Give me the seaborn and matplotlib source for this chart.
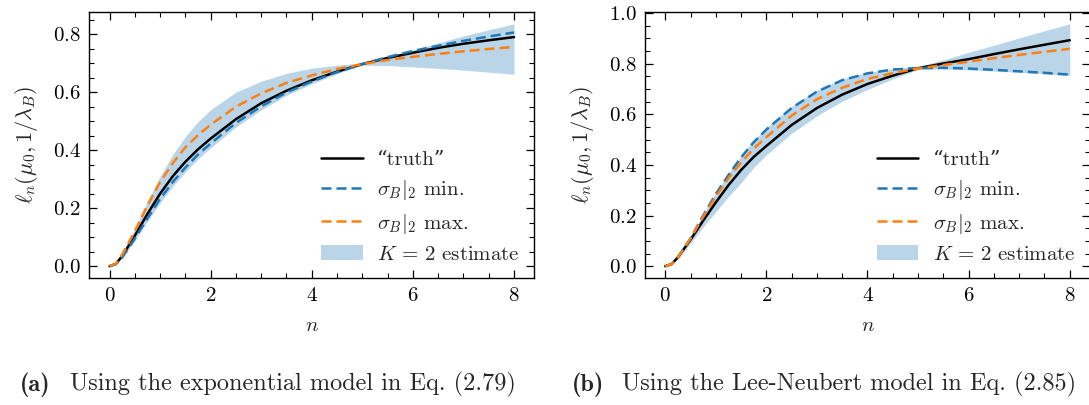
import matplotlib
matplotlib.use("Agg")
from matplotlib import pyplot as plt
from matplotlib.ticker import MultipleLocator
import seaborn as sns
import pandas as pd

# sample points along n
n_vals = [0, 0.125, 0.25, 0.5, 0.75, 1, 1.25, 1.5, 1.75, 2, 2.5, 3, 3.5,
          4, 4.5, 5, 5.5, 6, 6.5, 7, 7.5, 8]

# (a) exponential model
truth_a = [0, 0.008, 0.035, 0.105, 0.18, 0.25, 0.31, 0.36, 0.403, 0.44, 0.507,
           0.562, 0.605, 0.641, 0.671, 0.697, 0.718, 0.736, 0.753, 0.767, 0.779, 0.79]
smin_a = [0, 0.007, 0.03, 0.095, 0.165, 0.232, 0.29, 0.34, 0.385, 0.423, 0.494,
          0.551, 0.599, 0.637, 0.669, 0.697, 0.721, 0.742, 0.76, 0.777, 0.792, 0.806]
smax_a = [0, 0.009, 0.04, 0.12, 0.21, 0.29, 0.355, 0.41, 0.452, 0.488, 0.55,
          0.596, 0.632, 0.658, 0.68, 0.697, 0.711, 0.722, 0.732, 0.741, 0.749, 0.756]
low_a = [0, 0.006, 0.028, 0.088, 0.155, 0.218, 0.275, 0.325, 0.37, 0.408, 0.48,
         0.539, 0.589, 0.629, 0.664, 0.693, 0.692, 0.687, 0.682, 0.676, 0.669, 0.662]
high_a = [0, 0.01, 0.042, 0.128, 0.225, 0.31, 0.385, 0.447, 0.498, 0.54, 0.6,
          0.638, 0.665, 0.683, 0.693, 0.7, 0.722, 0.746, 0.77, 0.794, 0.815, 0.836]

# (b) Lee-Neubert model
truth_b = [0, 0.008, 0.035, 0.105, 0.18, 0.252, 0.32, 0.38, 0.432, 0.475, 0.558,
           0.625, 0.678, 0.72, 0.753, 0.782, 0.801, 0.818, 0.838, 0.857, 0.875, 0.893]
smin_b = [0, 0.008, 0.035, 0.11, 0.2, 0.285, 0.36, 0.43, 0.49, 0.54, 0.625,
          0.69, 0.735, 0.762, 0.777, 0.783, 0.784, 0.781, 0.776, 0.77, 0.764, 0.757]
smax_b = [0, 0.008, 0.035, 0.11, 0.195, 0.275, 0.348, 0.41, 0.465, 0.51, 0.595,
          0.66, 0.705, 0.74, 0.763, 0.781, 0.795, 0.808, 0.822, 0.835, 0.847, 0.859]
low_b = [0, 0.006, 0.028, 0.09, 0.155, 0.215, 0.275, 0.33, 0.39, 0.44, 0.525,
         0.594, 0.652, 0.698, 0.74, 0.777, 0.779, 0.776, 0.771, 0.766, 0.76, 0.753]
high_b = [0, 0.009, 0.037, 0.115, 0.205, 0.29, 0.366, 0.436, 0.497, 0.548, 0.632,
          0.696, 0.74, 0.766, 0.781, 0.79, 0.815, 0.845, 0.873, 0.902, 0.93, 0.958]

captions = ["Using the exponential model in Eq. (2.79)",
            "Using the Lee-Neubert model in Eq. (2.85)"]
tags = ["(a)", "(b)"]

sns.set_theme(style="ticks")
plt.rcParams['font.family'] = ['cmr10', 'DejaVu Serif']
plt.rcParams['mathtext.fontset'] = 'cm'
plt.rcParams['axes.formatter.use_mathtext'] = True
plt.rcParams['axes.unicode_minus'] = False
plt.rcParams['axes.edgecolor'] = 'black'
plt.rcParams['axes.linewidth'] = 1.0

fig = plt.figure(figsize=(10.89, 4.05), dpi=100)
ax_a = fig.add_axes([0.082, 0.3128, 0.4086, 0.6585])
ax_b = fig.add_axes([0.5923, 0.3128, 0.4086, 0.6585])

FS = 15


def draw(ax, truth, smin, smax, low, high):
    df = pd.DataFrame({'n': n_vals, 'truth': truth, 'min': smin, 'max': smax})
    ax.fill_between(n_vals, low, high, color='#1f77b4', alpha=0.3, lw=0,
                    label=r'$K\,=\,2$ estimate')
    sns.lineplot(data=df, x='n', y='truth', ax=ax, color='black', lw=1.8,
                 label='\u201ctruth\u201d')
    sns.lineplot(data=df, x='n', y='min', ax=ax, color='#1f77b4', lw=1.8,
                 dashes=(4, 2), label=r'$\sigma_B|_2$ min.')
    sns.lineplot(data=df, x='n', y='max', ax=ax, color='#ff7f0e', lw=1.8,
                 dashes=(4, 2), label=r'$\sigma_B|_2$ max.')
    h, l = ax.get_legend_handles_labels()
    order = [1, 2, 3, 0]
    ax.legend([h[i] for i in order], [l[i] for i in order], loc='lower right',
              frameon=False, fontsize=FS, handlelength=2.0, handletextpad=0.7,
              labelspacing=0.45, borderaxespad=0.3)
    ax.set_xlabel('$n$', fontsize=FS, labelpad=9)
    ax.set_ylabel(r'$\ell_n(\mu_0, 1/\lambda_B)$', fontsize=16)
    ax.xaxis.set_major_locator(MultipleLocator(2))
    ax.xaxis.set_minor_locator(MultipleLocator(0.5))
    ax.yaxis.set_major_locator(MultipleLocator(0.2))
    ax.yaxis.set_minor_locator(MultipleLocator(0.05))
    ax.tick_params(which='both', direction='in', top=True, right=True,
                   labelsize=FS, colors='black')
    ax.tick_params(which='major', length=6, width=0.9, pad=6)
    ax.tick_params(which='minor', length=3.5, width=0.8)
    ax.margins(x=0.05, y=0.05)
    ax.yaxis.set_label_coords(-0.11, 0.5)


draw(ax_a, truth_a, smin_a, smax_a, low_a, high_a)
draw(ax_b, truth_b, smin_b, smax_b, low_b, high_b)

# sub-captions
fig.text(0.018, 0.035, tags[0], fontsize=17.5, family='cmb10', ha='left')
fig.text(0.064, 0.035, captions[0], fontsize=17.5, ha='left')
fig.text(0.525, 0.035, tags[1], fontsize=17.5, family='cmb10', ha='left')
fig.text(0.571, 0.035, captions[1], fontsize=17.5, ha='left')

fig.savefig('out.png', dpi=100)
